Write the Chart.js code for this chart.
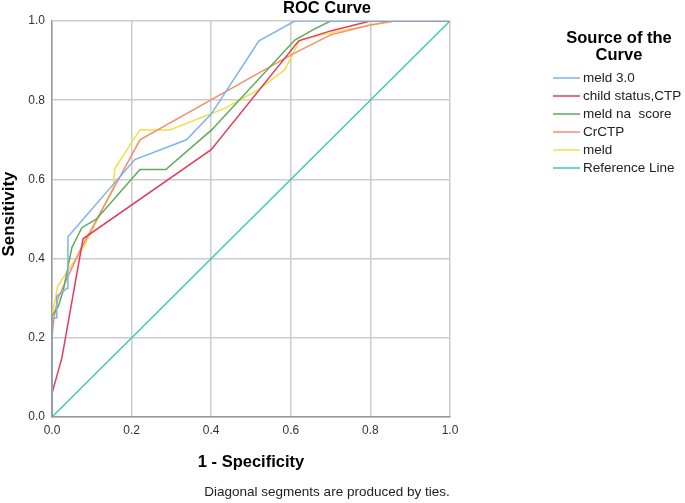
<!DOCTYPE html>
<html>
<head>
<meta charset="utf-8">
<script src="https://cdn.jsdelivr.net/npm/chart.js@4/dist/chart.umd.min.js"></script>
<style>
  body { margin: 0; background: #fff; }
  canvas { display: block; }
</style>
</head>
<body>
<canvas id="roc" width="685" height="503"></canvas>
<script>
// curve labels, in legend order
const curveNames = ["meld 3.0", "child status,CTP", "meld na  score", "CrCTP", "meld", "Reference Line"];
const curveColors = ["#7eb2ee", "#e63a5c", "#5faa5a", "#f98d6b", "#efe043", "#3fc9b8"];

// 1 - specificity / sensitivity pairs
const meld30X = [0, 0, 0.012, 0.012, 0.038, 0.04, 0.208, 0.338, 0.40, 0.52, 0.61, 1];
const meld30Y = [0, 0.25, 0.25, 0.305, 0.325, 0.455, 0.65, 0.70, 0.765, 0.95, 1, 1];

const childX = [0, 0, 0.025, 0.078, 0.40, 0.62, 0.70, 0.80, 1];
const childY = [0, 0.06, 0.15, 0.45, 0.675, 0.95, 0.975, 1, 1];

const meldNaX = [0, 0, 0.016, 0.028, 0.05, 0.075, 0.112, 0.221, 0.286, 0.401, 0.61, 0.66, 0.70, 1];
const meldNaY = [0, 0.255, 0.28, 0.318, 0.428, 0.478, 0.50, 0.625, 0.625, 0.725, 0.952, 0.98, 1, 1];

const crctpX = [0, 0, 0.005, 0.015, 0.07, 0.221, 0.602, 0.70, 0.80, 0.86, 1];
const crctpY = [0, 0.2, 0.25, 0.30, 0.42, 0.70, 0.915, 0.965, 0.99, 1, 1];

const meldX = [0, 0, 0.014, 0.08, 0.154, 0.158, 0.221, 0.296, 0.435, 0.518, 0.585, 0.623, 0.70, 0.80, 0.86, 1];
const meldY = [0, 0.25, 0.33, 0.43, 0.58, 0.628, 0.725, 0.725, 0.78, 0.826, 0.877, 0.952, 0.97, 0.99, 1, 1];

const refX = [0, 1];
const refY = [0, 1];

const axisTicks = [0, 0.2, 0.4, 0.6, 0.8, 1.0];

const FONT = "'Liberation Sans', Arial, sans-serif";

const toPoints = (xs, ys) => xs.map((x, i) => ({ x: x, y: ys[i] }));

const curves = [
    toPoints(meld30X, meld30Y),
    toPoints(childX, childY),
    toPoints(meldNaX, meldNaY),
    toPoints(crctpX, crctpY),
    toPoints(meldX, meldY),
    toPoints(refX, refY)
];

// titles, footnote and the legend on the right
const textPlugin = {
    id: "rocText",
    afterDraw(chart) {
        const ctx = chart.ctx;
        ctx.save();
        ctx.fillStyle = "#000";
        ctx.textBaseline = "middle";
        ctx.textAlign = "center";

        ctx.font = "bold 16.5px " + FONT;
        ctx.fillText("ROC Curve", 327, 8);
        ctx.fillText("1 - Specificity", 251, 462);

        ctx.save();
        ctx.translate(9, 214);
        ctx.rotate(-Math.PI / 2);
        ctx.font = "bold 17px " + FONT;
        ctx.fillText("Sensitivity", 0, 0);
        ctx.restore();

        ctx.fillText("Source of the", 619, 38);
        ctx.fillText("Curve", 619, 55);

        ctx.fillStyle = "#222";
        ctx.font = "13.5px " + FONT;
        ctx.fillText("Diagonal segments are produced by ties.", 327, 492);

        ctx.textAlign = "left";
        chart.data.datasets.forEach((ds, i) => {
            const y = 78 + i * 18;
            ctx.strokeStyle = ds.borderColor;
            ctx.lineWidth = 1.5;
            ctx.beginPath();
            ctx.moveTo(553, y);
            ctx.lineTo(580, y);
            ctx.stroke();
            ctx.fillStyle = "#222";
            ctx.fillText(ds.label, 583, y);
        });
        ctx.restore();
    }
};

const ctx = document.getElementById("roc").getContext("2d");

new Chart(ctx, {
    type: "scatter",
    data: {
        datasets: curves.map((pts, i) => ({
            label: curveNames[i],
            data: pts,
            showLine: true,
            borderColor: curveColors[i],
            backgroundColor: curveColors[i],
            borderWidth: 1.5,
            pointRadius: 0,
            tension: 0
        }))
    },
    options: {
        responsive: false,
        animation: false,
        layout: { padding: { top: 21, right: 235, left: 0, bottom: 0 } },
        plugins: {
            legend: { display: false },
            title: { display: false },
            tooltip: { enabled: false }
        },
        scales: {
            x: {
                type: "linear",
                min: 0,
                max: 1,
                afterFit: (s) => { s.height = 86; },
                afterBuildTicks: (s) => { s.ticks = axisTicks.map(v => ({ value: v })); },
                grid: { color: "#cccccc", lineWidth: 1.5, drawTicks: false },
                border: { color: "#999999", width: 1.5 },
                ticks: {
                    padding: 6,
                    color: "#333",
                    font: { family: FONT, size: 12 },
                    callback: (v) => v.toFixed(1)
                }
            },
            y: {
                type: "linear",
                min: 0,
                max: 1,
                afterFit: (s) => { s.width = 52; },
                afterBuildTicks: (s) => { s.ticks = axisTicks.map(v => ({ value: v })); },
                grid: { color: "#cccccc", lineWidth: 1.5, drawTicks: false },
                border: { color: "#999999", width: 1.5 },
                ticks: {
                    padding: 7,
                    color: "#333",
                    font: { family: FONT, size: 12 },
                    callback: (v) => v.toFixed(1)
                }
            }
        }
    },
    plugins: [textPlugin]
});
</script>
</body>
</html>
